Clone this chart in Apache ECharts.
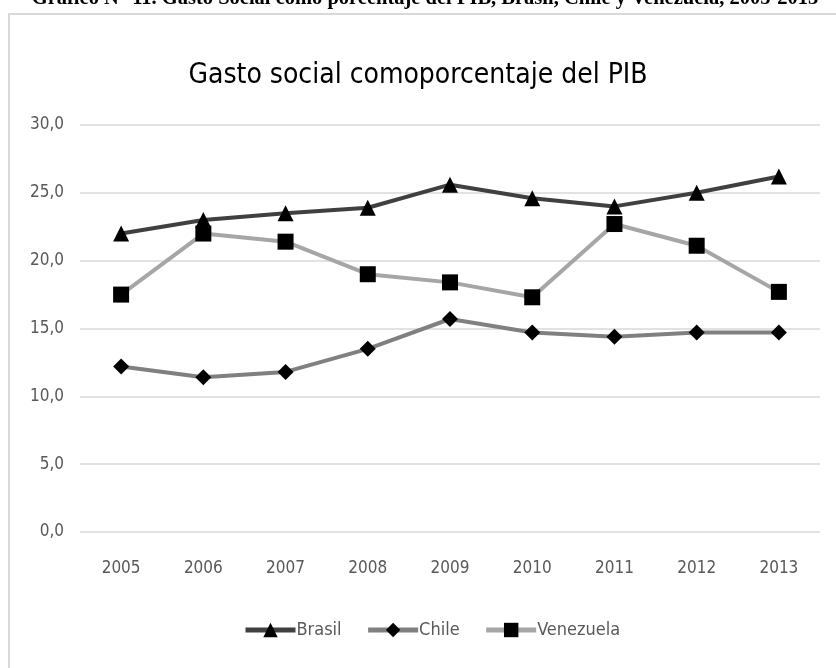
<!DOCTYPE html>
<html><head><meta charset="utf-8">
<script src="https://cdn.jsdelivr.net/npm/echarts@6/dist/echarts.min.js"></script>
<style>html,body{margin:0;padding:0;background:#fff}#c{width:836px;height:668px}</style>
</head><body><div id="c"></div>
<script>
const years = ['2005','2006','2007','2008','2009','2010','2011','2012','2013'];
const brasil = [22.0, 23.0, 23.5, 23.9, 25.6, 24.6, 24.0, 25.0, 26.2];
const chile = [12.2, 11.4, 11.8, 13.5, 15.7, 14.7, 14.4, 14.7, 14.7];
const venezuela = [17.5, 22.0, 21.4, 19.0, 18.4, 17.3, 22.7, 21.1, 17.7];
const yTicks = { min: 0, max: 30, interval: 5 };
const FONT = "'Liberation Sans Narrow','DejaVu Sans Condensed','Noto Sans',sans-serif";

const chart = echarts.init(document.getElementById('c'), null, {renderer:'canvas'});
function mk(name, data, color, symbol, size){
  return { name, type:'line', data, symbol, symbolSize:size, showSymbol:true,
    lineStyle:{color, width:4}, itemStyle:{color:'#000', borderWidth:0},
    color: color, emphasis:{disabled:true}, z: 2 };
}
chart.setOption({
  animation:false,
  backgroundColor:'#fff',
  graphic:[
    {type:'rect', shape:{x:9, y:14, width:840, height:670}, style:{fill:'#fff', stroke:'#d9d9d9', lineWidth:2}, z:-10},
    {type:'text', x:425, y:-12, style:{text:'Gráfico N° 11. Gasto Social como porcentaje del PIB, Brasil, Chile y Venezuela, 2005-2013', font:"bold 20.5px 'Liberation Serif', serif", fill:'#000', align:'center', verticalAlign:'top'}}
  ],
  title:{ text:'Gasto social comoporcentaje del PIB', left:'center', top:57,
    textStyle:{fontFamily:FONT, fontSize:28, fontWeight:'normal', color:'#000'} },
  grid:{ left:80, right:16, top:125, bottom:136 },
  xAxis:{ type:'category', data:years, boundaryGap:true,
    axisLine:{show:false}, axisTick:{show:false},
    axisLabel:{fontFamily:FONT, fontSize:17, color:'#595959', margin:28} },
  yAxis:{ type:'value', min:yTicks.min, max:yTicks.max, interval:yTicks.interval,
    axisLine:{show:false}, axisTick:{show:false},
    splitLine:{lineStyle:{color:'#d9d9d9', width:1.5}},
    axisLabel:{fontFamily:FONT, fontSize:17, color:'#595959', margin:16,
      formatter:v=>v.toFixed(1).replace('.',',')} },
  legend:{ bottom:24, left:238, itemWidth:50, itemHeight:18, itemGap:24,
    lineStyle:{width:5},
    textStyle:{fontFamily:FONT, fontSize:18, color:'#595959', padding:[0,0,0,-4]},
    data:['Brasil','Chile','Venezuela'] },
  series:[
    mk('Brasil', brasil, '#404040', 'triangle', 16),
    mk('Chile', chile, '#808080', 'diamond', 16),
    mk('Venezuela', venezuela, '#a6a6a6', 'rect', 16)
  ]
});
</script></body></html>
